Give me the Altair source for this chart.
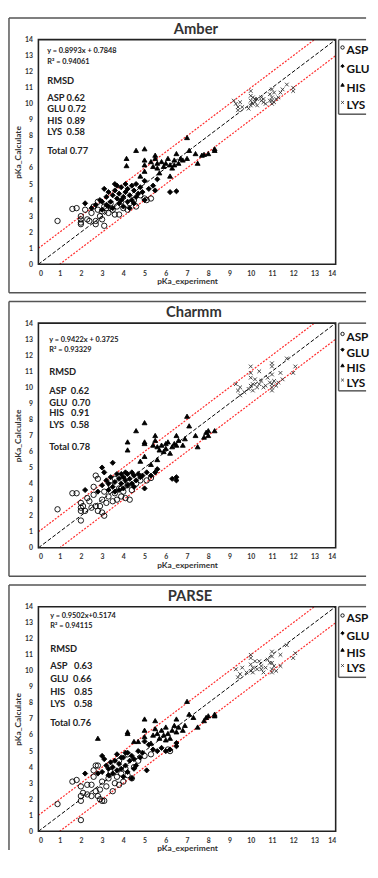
import altair as alt
import pandas as pd

RESIDUES = ["ASP", "GLU", "HIS", "LYS"]
TICKS = list(range(0, 15))

# ---------------- Amber ----------------
AMBER_ASP = [(0.9,2.7),(1.6,3.45),(1.8,3.5),(2.0,3.0),(2.0,2.8),(2.0,2.5),(2.0,2.6),(2.2,3.4),(2.3,2.8),
             (2.4,2.7),(2.5,3.2),(2.6,3.6),(2.7,2.7),(2.7,2.5),(2.8,3.9),(2.8,3.4),(2.9,3.0),(3.0,2.8),
             (3.0,3.3),(3.1,2.4),(3.1,3.6),(3.2,3.5),(3.3,3.2),(3.4,3.8),(3.5,3.4),(3.6,3.1),(3.7,3.6),
             (3.8,3.1),(3.9,3.9),(4.0,3.5),(4.2,3.4),(4.3,3.8),(4.5,4.0),(4.6,3.6),(4.8,4.3),(5.0,4.1),
             (5.1,4.0),(5.3,4.1)]
AMBER_GLU = [(2.2,3.8),(2.7,3.7),(2.9,4.0),(3.0,3.4),(3.1,4.7),(3.2,4.2),(3.2,3.7),(3.3,4.5),(3.4,3.9),
             (3.5,4.3),(3.5,3.5),(3.6,5.0),(3.6,4.6),(3.7,4.1),(3.8,3.8),(3.8,4.4),(3.9,4.8),(4.0,4.2),
             (4.0,3.6),(4.1,4.5),(4.1,5.0),(4.2,3.9),(4.2,4.7),(4.3,4.3),(4.3,3.5),(4.4,4.9),(4.4,4.0),
             (4.5,4.6),(4.6,4.2),(4.6,5.0),(4.7,4.4),(4.8,4.8),(4.9,4.5),(5.0,4.0),(5.0,5.2),(5.2,4.7),
             (5.4,4.9),(5.5,4.6),(5.6,5.3),(6.2,4.5),(6.5,4.55),(3.0,3.9),(3.3,3.6),(3.9,4.0),(4.5,3.8),
             (2.5,3.5),(3.7,4.9)]
AMBER_HIS = [(4.15,6.6),(4.15,6.15),(4.6,7.1),(5.0,7.2),(5.0,6.5),(5.0,6.2),(5.0,5.8),(5.5,6.8),(5.5,6.6),
             (5.6,6.3),(5.7,5.7),(5.8,6.4),(5.9,6.1),(6.0,6.3),(6.1,6.6),(6.2,5.5),(6.2,6.2),(6.3,6.0),
             (6.4,6.5),(6.5,6.9),(6.6,6.3),(6.7,6.6),(6.8,6.5),(7.0,7.9),(7.0,6.6),(7.1,7.1),(7.4,6.9),
             (7.5,6.3),(7.7,6.8),(7.8,6.85),(8.0,6.9),(8.3,7.1),(8.3,7.2),(5.3,6.4),(5.6,6.0),(6.4,6.2),
             (4.8,5.5),(5.4,6.1)]
AMBER_LYS = [(9.2,10.2),(9.3,10.0),(9.4,9.8),(9.4,9.6),(9.5,10.1),(9.6,9.8),(9.9,9.7),(10.0,10.8),
             (10.0,10.5),(10.0,10.2),(10.0,9.9),(10.1,10.4),(10.1,10.0),(10.2,10.3),(10.2,10.1),(10.3,10.3),
             (10.3,9.9),(10.5,10.2),(10.5,10.4),(10.6,10.1),(10.6,10.3),(10.7,10.0),(10.9,10.2),(10.9,10.6),
             (11.0,10.9),(11.0,10.2),(11.0,10.0),(11.0,10.4),(11.1,10.7),(11.1,10.1),(11.2,10.3),(11.3,10.4),
             (11.4,10.7),(11.7,11.2),(12.0,10.8),(12.0,11.0),(11.5,10.9)]

# ---------------- Charmm ----------------
CHARMM_ASP = [(0.9,2.4),(1.6,3.4),(1.8,3.4),(2.0,2.8),(2.0,2.5),(2.0,2.3),(2.0,1.7),(2.1,2.6),(2.2,2.3),
              (2.3,3.1),(2.4,2.9),(2.5,2.5),(2.6,3.3),(2.6,3.8),(2.7,4.5),(2.8,4.3),(2.7,2.6),(2.8,2.3),
              (2.9,2.6),(3.0,2.2),(3.0,3.0),(3.1,2.0),(3.1,3.5),(3.2,2.8),(3.3,3.2),(3.4,3.9),(3.5,2.9),
              (3.6,3.4),(3.7,3.0),(3.8,3.7),(3.9,3.2),(4.0,3.5),(4.1,3.1),(4.2,3.9),(4.3,3.0),(4.4,3.6),
              (4.6,4.0),(4.8,4.2),(5.1,4.2),(5.3,4.35),(3.6,4.3),(4.0,4.5)]
CHARMM_GLU = [(2.2,3.6),(2.8,3.5),(3.0,5.0),(3.1,4.7),(3.0,3.9),(3.2,4.2),(3.3,3.6),(3.4,4.4),(3.5,5.3),
              (3.5,3.8),(3.6,4.1),(3.7,4.6),(3.8,3.6),(3.8,4.3),(3.9,4.0),(4.0,4.4),(4.0,3.7),(4.1,4.2),
              (4.2,4.6),(4.2,3.9),(4.3,4.3),(4.4,4.7),(4.4,4.0),(4.5,4.5),(4.6,4.2),(4.7,4.6),(4.8,4.4),
              (4.9,4.5),(5.0,3.7),(5.1,4.7),(5.3,4.5),(5.5,4.7),(6.3,4.3),(6.5,4.4),(6.5,4.2),(3.3,4.0),
              (3.9,4.6),(4.5,3.8),(3.6,3.5),(4.1,4.7),(5.6,4.9)]
CHARMM_HIS = [(4.2,6.6),(4.2,6.1),(4.6,7.3),(5.0,7.8),(5.0,6.5),(5.0,6.6),(5.0,5.7),(5.3,5.2),(5.5,7.0),
              (5.5,6.7),(5.6,6.3),(5.6,5.5),(5.7,6.1),(5.8,6.4),(5.9,6.0),(6.0,6.2),(6.1,6.6),(6.2,5.9),
              (6.3,6.3),(6.4,6.5),(6.5,7.0),(6.5,6.4),(6.6,6.7),(6.8,6.4),(6.9,6.8),(7.0,8.2),(7.1,7.6),
              (7.4,7.0),(7.5,6.3),(7.8,6.9),(7.9,7.2),(8.0,7.3),(8.0,7.0),(8.3,7.3),(5.4,6.4),(6.0,6.5),
              (4.8,5.4)]
CHARMM_LYS = [(9.3,10.2),(9.4,9.8),(9.5,9.5),(9.5,10.0),(9.7,9.7),(9.9,9.9),(10.0,11.3),(10.0,10.9),
              (10.0,10.6),(10.0,10.1),(10.1,10.2),(10.1,9.8),(10.2,10.5),(10.3,10.0),(10.4,11.0),(10.4,10.2),
              (10.5,10.4),(10.6,10.0),(10.7,10.1),(10.9,10.3),(11.0,11.5),(11.0,11.3),(11.0,10.8),(11.0,10.2),
              (11.0,9.8),(11.0,10.0),(11.1,10.4),(11.2,10.1),(11.3,10.3),(11.4,10.9),(11.5,10.5),(11.7,11.8),
              (12.0,10.9),(12.1,11.3),(10.8,10.6)]

# ---------------- PARSE ----------------
PARSE_ASP = [(0.9,1.7),(1.6,3.1),(1.8,3.2),(2.0,2.8),(2.0,2.2),(2.0,1.9),(2.0,0.7),(2.1,2.4),(2.3,2.9),
             (2.3,2.3),(2.5,2.2),(2.5,2.9),(2.6,3.4),(2.6,3.8),(2.7,4.1),(2.8,4.1),(2.7,2.5),(2.8,2.2),
             (2.9,2.0),(2.9,2.6),(3.0,1.9),(3.1,1.9),(3.0,3.1),(3.2,2.8),(3.3,3.3),(3.4,3.7),(3.5,2.5),
             (3.6,3.0),(3.7,3.4),(3.8,2.9),(3.9,3.6),(4.0,3.1),(4.1,3.9),(4.2,3.5),(4.4,3.3),(4.5,4.0),
             (4.7,4.4),(5.0,4.7),(5.3,4.8),(6.1,5.1),(6.2,5.0),(3.8,4.4),(4.2,4.8)]
PARSE_GLU = [(2.2,3.6),(2.8,3.6),(3.0,4.7),(3.1,4.5),(3.0,3.7),(3.2,4.1),(3.3,3.5),(3.4,4.3),(3.5,4.0),
             (3.5,3.6),(3.6,4.4),(3.7,4.8),(3.7,3.8),(3.8,4.2),(3.9,3.9),(4.0,4.6),(4.0,3.4),(4.1,4.1),
             (4.2,4.9),(4.2,3.7),(4.3,4.4),(4.4,4.7),(4.4,3.3),(4.5,4.5),(4.6,4.1),(4.7,5.0),(4.8,4.6),
             (4.9,4.9),(5.1,3.8),(5.0,5.6),(5.2,5.4),(5.4,5.1),(5.6,5.0),(6.0,5.0),(6.2,5.1),(6.5,5.5),
             (6.5,5.3),(3.3,3.9),(3.9,4.6),(4.5,3.9),(4.1,4.9),(5.8,5.2)]
PARSE_HIS = [(2.8,5.8),(4.2,6.1),(4.2,6.2),(4.5,5.6),(5.0,7.0),(5.0,6.3),(5.0,5.9),(5.3,5.5),(5.5,6.9),
             (5.5,6.4),(5.6,6.1),(5.7,5.8),(5.8,6.3),(5.9,6.0),(6.0,6.5),(6.1,6.1),(6.2,5.8),(6.3,6.3),
             (6.4,6.6),(6.5,7.0),(6.5,6.2),(6.6,6.5),(6.8,6.3),(6.9,6.6),(7.0,8.1),(7.1,7.3),(7.3,7.1),
             (7.5,6.5),(7.8,6.9),(7.9,7.1),(8.0,7.2),(8.3,7.3),(8.3,7.2),(5.4,6.0),(6.0,5.7),(4.7,5.6)]
PARSE_LYS = [(9.3,10.1),(9.4,9.6),(9.5,9.8),(9.6,10.2),(9.8,9.9),(10.0,11.0),(10.0,10.8),(10.0,10.4),
             (10.0,10.0),(10.1,10.2),(10.1,9.9),(10.2,10.6),(10.3,10.1),(10.4,10.6),(10.5,10.1),(10.5,10.3),
             (10.6,9.9),(10.7,10.2),(10.9,10.5),(11.0,11.2),(11.0,10.9),(11.0,10.5),(11.0,10.1),(11.0,9.9),
             (11.1,10.3),(11.2,10.0),(11.4,11.0),(11.4,10.3),(11.7,11.6),(12.0,10.8),(12.1,11.1),(10.8,10.7)]

# reference lines: y = x and y = x +/- 1
DIAG_X, DIAG_Y = [0, 14], [0, 14]
UPPER_X, UPPER_Y = [0, 13], [1, 14]
LOWER_X, LOWER_Y = [1, 14], [0, 13]

NB = "\u00a0"
PANELS = [
    dict(name="Amber", data=[AMBER_ASP, AMBER_GLU, AMBER_HIS, AMBER_LYS],
         eq="y = 0.8993x + 0.7848", r2="R\u00b2 = 0.94061",
         rmsd=["ASP" + NB + "0.62", "GLU" + NB + "0.72", "HIS" + NB * 2 + "0.89", "LYS" + NB * 2 + "0.58"],
         total="Total 0.77",
         tx=9, ty=[12, 23, 42, 60, 71, 83, 94, 114], dx=9,
         leg_h=76, leg_y=[11, 30, 49, 67], last=False),
    dict(name="Charmm", data=[CHARMM_ASP, CHARMM_GLU, CHARMM_HIS, CHARMM_LYS],
         eq="y = 0.9422x + 0.3725", r2="R\u00b2 = 0.93329",
         rmsd=["ASP" + NB * 2 + "0.62", "GLU" + NB * 2 + "0.70", "HIS" + NB * 3 + "0.91", "LYS" + NB * 3 + "0.58"],
         total="Total 0.78",
         tx=11, ty=[17, 27, 50, 69, 81, 92, 104, 126], dx=7,
         leg_h=69, leg_y=[14, 30, 46, 61], last=False),
    dict(name="PARSE", data=[PARSE_ASP, PARSE_GLU, PARSE_HIS, PARSE_LYS],
         eq="y = 0.9502x+0.5174", r2="R\u00b2 = 0.94115",
         rmsd=["ASP" + NB * 3 + "0.63", "GLU" + NB * 2 + "0.66", "HIS" + NB * 4 + "0.85", "LYS" + NB * 4 + "0.58"],
         total="Total 0.76",
         tx=12, ty=[10, 20, 43, 61, 74, 87, 99, 119], dx=3,
         leg_h=72, leg_y=[12, 30, 47, 63], last=True),
]

W, H = 303, 229
FONT = "Lato"
X_PATH = "M-0.8,-0.8L0.8,0.8M-0.8,0.8L0.8,-0.8"
SHAPES = ["circle", "diamond", "triangle-up", X_PATH]
FILLS = ["transparent", "black", "black", "transparent"]
STROKES = ["black", "black", "black", "#333333"]
SIZES = [30, 22, 28, 34]
FRAME_C = "#555555"

ONE = pd.DataFrame({"k": [0]})


def hrule(x1, x2, y, color, sw):
    return alt.Chart(ONE).mark_rule(color=color, strokeWidth=sw, clip=False).encode(
        x=alt.value(x1), x2=alt.value(x2), y=alt.value(y))


def vrule(x, y1, y2, color, sw):
    return alt.Chart(ONE).mark_rule(color=color, strokeWidth=sw, clip=False).encode(
        x=alt.value(x), y=alt.value(y1), y2=alt.value(y2))


def make_panel(p):
    rows = []
    for res, pts in zip(RESIDUES, p["data"]):
        for x, y in pts:
            rows.append({"exp": x, "calc": y, "res": res})
    df = pd.DataFrame(rows)

    xsc = alt.Scale(domain=[0, 14], nice=False, zero=False)
    ysc = alt.Scale(domain=[0, 14], nice=False, zero=False)
    xax = alt.Axis(values=TICKS, tickCount=15, title="pKa_experiment", labelPadding=5, titlePadding=1)
    yax = alt.Axis(values=TICKS, tickCount=15, title="pKa_Calculate", labelPadding=6, titlePadding=2)
    X = alt.X("exp:Q", scale=xsc, axis=xax)
    Y = alt.Y("calc:Q", scale=ysc, axis=yax)

    right = W + 31
    bottom = H + 19 if p["last"] else H + 29
    layers = [hrule(-30, right, -22, FRAME_C, 1.5), vrule(-30, -22, bottom, FRAME_C, 1.5)]
    if not p["last"]:
        layers.append(hrule(-30, right, bottom, FRAME_C, 1.5))

    def line_df(xs, ys):
        return pd.DataFrame({"exp": xs, "calc": ys})

    layers.append(alt.Chart(line_df(DIAG_X, DIAG_Y)).mark_line(
        color="black", strokeWidth=1, strokeDash=[4, 2]).encode(x=X, y=Y))
    layers.append(alt.Chart(line_df(UPPER_X, UPPER_Y)).mark_line(
        color="#ff2a2a", strokeWidth=1.2, strokeDash=[2, 1.5]).encode(x=X, y=Y))
    layers.append(alt.Chart(line_df(LOWER_X, LOWER_Y)).mark_line(
        color="#ff2a2a", strokeWidth=1.2, strokeDash=[2, 1.5]).encode(x=X, y=Y))

    layers.append(alt.Chart(df).mark_point(opacity=1, strokeWidth=0.9).encode(
        x=X, y=Y,
        shape=alt.Shape("res:N", scale=alt.Scale(domain=RESIDUES, range=SHAPES), legend=None),
        fill=alt.Fill("res:N", scale=alt.Scale(domain=RESIDUES, range=FILLS), legend=None),
        stroke=alt.Stroke("res:N", scale=alt.Scale(domain=RESIDUES, range=STROKES), legend=None),
        size=alt.Size("res:N", scale=alt.Scale(domain=RESIDUES, range=SIZES), legend=None),
    ))

    # panel title
    layers.append(alt.Chart(ONE).mark_text(
        text=p["name"], font=FONT, fontSize=15, fontWeight="bold", color="#333333",
        align="center", baseline="middle", clip=False
    ).encode(x=alt.value(W / 2 + p["dx"]), y=alt.value(-11)))

    # annotation texts
    lines = [p["eq"], p["r2"], "RMSD"] + p["rmsd"] + [p["total"]]
    for i, (t, yy) in enumerate(zip(lines, p["ty"])):
        fs = 7.5 if i < 2 else 9.5
        layers.append(alt.Chart(ONE).mark_text(
            text=t, align="left", baseline="middle", font=FONT, fontWeight="bold",
            fontSize=fs, color="#222222"
        ).encode(x=alt.value(p["tx"]), y=alt.value(yy)))

    # legend box (drawn by hand, outside the plot; open on the right like the cropped original)
    lx = W + 3
    layers.append(hrule(lx, right, 0, FRAME_C, 1.5))
    layers.append(hrule(lx, right, p["leg_h"], FRAME_C, 1.5))
    layers.append(vrule(lx, 0, p["leg_h"], FRAME_C, 1.5))
    for i, res in enumerate(RESIDUES):
        yy = p["leg_y"][i]
        layers.append(alt.Chart(ONE).mark_point(
            shape=SHAPES[i], fill=FILLS[i], stroke=STROKES[i], size=12, strokeWidth=0.9,
            opacity=1, clip=False
        ).encode(x=alt.value(lx + 4), y=alt.value(yy - 3)))
        layers.append(alt.Chart(ONE).mark_text(
            text=res, align="left", baseline="middle", font=FONT, fontWeight="bold",
            fontSize=12, color="#111111", clip=False
        ).encode(x=alt.value(lx + 8), y=alt.value(yy)))

    # plot-area border
    layers.append(alt.Chart(ONE).mark_rect(
        fill="transparent", stroke="#222222", strokeWidth=1.6, clip=False
    ).encode(x=alt.value(0), x2=alt.value(W), y=alt.value(0), y2=alt.value(H)))

    return alt.layer(*layers).properties(width=W, height=H)


charts = [make_panel(p) for p in PANELS]
chart = alt.vconcat(*charts, spacing=60, bounds="flush").properties(
    padding={"left": 0, "top": 1, "right": 0, "bottom": 0},
    background="white",
).configure_view(stroke=None).configure_axis(
    domain=False, ticks=False, grid=False, labelOverlap=False, labelBound=False,
    labelFontSize=7, labelFontWeight="bold", labelColor="#333333", labelFont=FONT,
    titleFontSize=8.5, titleFontWeight="bold", titleColor="#333333", titleFont=FONT,
)

chart.save("out.html", embed_options={"renderer": "svg", "actions": False})
